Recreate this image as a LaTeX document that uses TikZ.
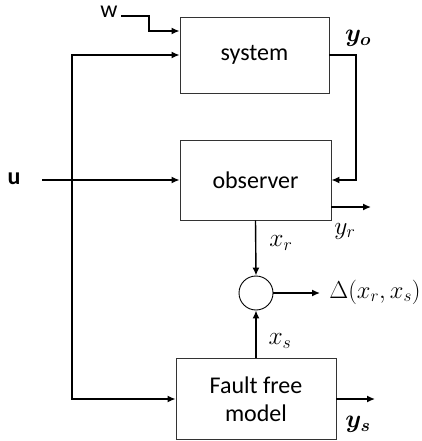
\RequirePackage{fix-cm}
\documentclass[tikz,border=0pt]{standalone}
\usepackage{amsmath,bm}
\usepackage{fontspec}
\setmainfont{Carlito}
\usetikzlibrary{arrows.meta}
\begin{document}
\begin{tikzpicture}[x=1pt,y=-1pt,
  every node/.style={font=\fontsize{24}{29}\selectfont},
  box/.style={draw=black!80, line width=0.9pt, inner sep=0pt, align=center},
  conn/.style={line width=1.4pt, -{Latex[length=8pt,width=7pt]}},
  lbl/.style={inner sep=0pt},
  mlbl/.style={inner sep=0pt, font=\fontsize{25.5}{30}\selectfont}]
\useasboundingbox (0,0) rectangle (422,441);
% blocks
\node[box, minimum width=149pt, minimum height=76pt] (sys) at (254.5,55) {system};
\node[box, minimum width=151pt, minimum height=80pt] (obs) at (255.5,180) {observer};
\node[box, minimum width=160pt, minimum height=81pt] (ff) at (256,399) {Fault free\\[-1pt]model};
\node[draw, circle, minimum size=34pt, line width=0.9pt, inner sep=0pt] (sum) at (256,293) {};
% labels
\node[lbl] (w) at (109,12) {w};
\node[lbl] (u) at (14,179) {\textbf{u}};
\node[mlbl] (yo) at (358,38) {$\boldsymbol{y_o}$};
\node[mlbl] (yr) at (345,231) {$y_r$};
\node[mlbl] (xr) at (281,243) {$x_r$};
\node[mlbl] (xs) at (280,341) {$x_s$};
\node[mlbl] (ys) at (358,424) {$\boldsymbol{y_s}$};
\node[mlbl, font=\fontsize{24.5}{29}\selectfont] (delta) at (375,292) {$\Delta(x_r,x_s)$};
% free ends
\coordinate (w0) at (121,16);
\coordinate (u0) at (42,180);
\coordinate (yrend) at (371,207);
\coordinate (dend) at (320,293);
\coordinate (ysend) at (375,399);
% connectors
\draw[conn] (w0) -- (149,16) -- (149,31) -- ([yshift=24pt]sys.west);
\draw[conn] (u0) -- (obs.west);
\draw[conn] (72,180) |- (sys.west);
\draw[conn] (72,180) |- (ff.west);
\draw[conn] (sys.east) -- (356,55) -- (356,180) -- (obs.east);
\draw[conn] ([yshift=-27pt]obs.east) -- (yrend);
\draw[conn] (obs.south) -- (sum.north);
\draw[conn] (ff.north) -- (sum.south);
\draw[conn] (sum.east) -- (dend);
\draw[conn] (ff.east) -- (ysend);
\end{tikzpicture}
\end{document}
